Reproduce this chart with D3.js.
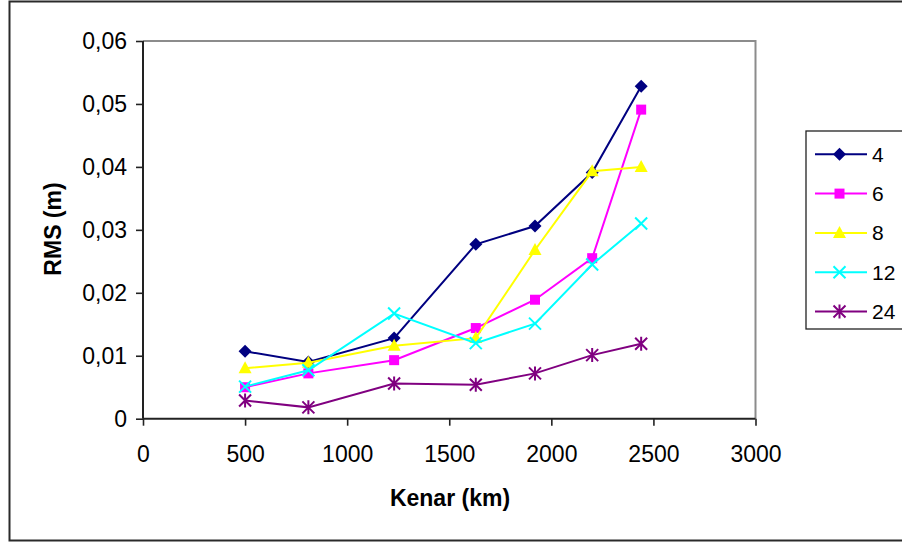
<!DOCTYPE html>
<html>
<head>
<meta charset="utf-8">
<script src="https://cdn.jsdelivr.net/npm/d3@7"></script>
<style>
  html, body { margin: 0; padding: 0; background: #fff; }
  svg { display: block; }
  text { font-family: "Liberation Sans", Arial, sans-serif; }
</style>
</head>
<body>
<svg id="chart" width="902" height="544"></svg>
<script>
// Distance along the baseline (km)
const kenar = [500, 810, 1230, 1630, 1920, 2200, 2440];

// RMS error (m) for each session length
const rms4  = [0.0107, 0.0090, 0.0128, 0.0277, 0.0306, 0.0391, 0.0528];
const rms6  = [0.0050, 0.0072, 0.0093, 0.0144, 0.0189, 0.0255, 0.0491];
const rms8  = [0.0080, 0.0089, 0.0116, 0.0128, 0.0268, 0.0393, 0.0400];
const rms12 = [0.0051, 0.0077, 0.0167, 0.0120, 0.0151, 0.0245, 0.0310];
const rms24 = [0.0029, 0.0018, 0.0056, 0.0054, 0.0072, 0.0101, 0.0119];

const seriesNames = ["4", "6", "8", "12", "24"];
const seriesColors = ["#000080", "#FF00FF", "#FFFF00", "#00FFFF", "#800080"];
const seriesMarkers = ["diamond", "square", "triangle", "cross", "star"];

const xTicks = [0, 500, 1000, 1500, 2000, 2500, 3000];
const yTicks = [0, 0.01, 0.02, 0.03, 0.04, 0.05, 0.06];

const series = [rms4, rms6, rms8, rms12, rms24].map((vals, i) => ({
  name: seriesNames[i],
  color: seriesColors[i],
  marker: seriesMarkers[i],
  points: kenar.map((k, j) => ({ x: k, y: vals[j] }))
}));

const svg = d3.select("#chart");

// Outer chart frame
svg.append("rect")
  .attr("x", 9.5).attr("y", 1.5)
  .attr("width", 902).attr("height", 539)
  .attr("fill", "#fff").attr("stroke", "#2a2a2a").attr("stroke-width", 2);

const plot = { left: 143, top: 41, right: 755.5, bottom: 418.7 };

const x = d3.scaleLinear().domain([0, 3000]).range([plot.left, plot.right]);
const y = d3.scaleLinear().domain([0, 0.06]).range([plot.bottom, plot.top]);

// Plot area border: grey on top and right
svg.append("path")
  .attr("d", `M${plot.left},${plot.top}H${plot.right}V${plot.bottom}`)
  .attr("fill", "none").attr("stroke", "#8c8c8c").attr("stroke-width", 2);

const fmtY = d => d === 0 ? "0" : d3.format(".2f")(d).replace(".", ",");

// Y axis
const yAxis = svg.append("g")
  .attr("transform", `translate(${plot.left},0)`)
  .call(d3.axisLeft(y).tickValues(yTicks).tickSize(7).tickPadding(9).tickFormat(fmtY));

// X axis
const xAxis = svg.append("g")
  .attr("transform", `translate(0,${plot.bottom})`)
  .call(d3.axisBottom(x).tickValues(xTicks).tickSize(7).tickPadding(20).tickFormat(d3.format("d")));

[yAxis, xAxis].forEach(g => {
  g.select(".domain").attr("stroke", "#222").attr("stroke-width", 2);
  g.selectAll(".tick line").attr("stroke", "#222").attr("stroke-width", 1.6);
  g.selectAll(".tick text")
    .attr("fill", "#000")
    .style("font-family", "'Liberation Sans', Arial, sans-serif")
    .style("font-size", "23px");
});
xAxis.select(".domain").attr("d", `M${plot.left},0H${plot.right}`);
yAxis.select(".domain").attr("d", `M0,${plot.bottom}V${plot.top}`);

// Axis titles
svg.append("text")
  .attr("x", 450).attr("y", 506)
  .attr("text-anchor", "middle")
  .style("font-size", "23px").style("font-weight", "bold")
  .text("Kenar (km)");

svg.append("text")
  .attr("transform", "translate(61,229) rotate(-90)")
  .attr("text-anchor", "middle")
  .style("font-size", "23px").style("font-weight", "bold")
  .text("RMS (m)");

// Marker shapes
function drawMarker(g, type, color) {
  if (type === "diamond") {
    g.append("path").attr("d", "M0,-6.5L6.5,0L0,6.5L-6.5,0Z").attr("fill", color);
  } else if (type === "square") {
    g.append("rect").attr("x", -5).attr("y", -5).attr("width", 10).attr("height", 10).attr("fill", color);
  } else if (type === "triangle") {
    g.append("path").attr("d", "M0,-7L6.5,5L-6.5,5Z").attr("fill", color);
  } else if (type === "cross") {
    g.append("path").attr("d", "M-6,-6L6,6M-6,6L6,-6")
      .attr("stroke", color).attr("stroke-width", 2).attr("fill", "none");
  } else if (type === "star") {
    g.append("path").attr("d", "M-6,-6L6,6M-6,6L6,-6M0,-7V7")
      .attr("stroke", color).attr("stroke-width", 2).attr("fill", "none");
  }
}

const line = d3.line().x(d => x(d.x)).y(d => y(d.y));

const layers = svg.append("g");
series.forEach(s => {
  const g = layers.append("g");
  g.append("path")
    .datum(s.points)
    .attr("d", line)
    .attr("fill", "none")
    .attr("stroke", s.color)
    .attr("stroke-width", 2);
  g.selectAll("g.pt")
    .data(s.points)
    .join("g")
    .attr("class", "pt")
    .attr("transform", d => `translate(${x(d.x)},${y(d.y)})`)
    .each(function () { drawMarker(d3.select(this), s.marker, s.color); });
});

// Legend
const legend = svg.append("g");
legend.append("rect")
  .attr("x", 806).attr("y", 131)
  .attr("width", 110).attr("height", 198)
  .attr("fill", "#fff").attr("stroke", "#222").attr("stroke-width", 1.3);

series.forEach((s, i) => {
  const ly = 154.3 + i * 39.3;
  const g = legend.append("g");
  g.append("line")
    .attr("x1", 815).attr("x2", 867)
    .attr("y1", ly).attr("y2", ly)
    .attr("stroke", s.color).attr("stroke-width", 2);
  const m = g.append("g").attr("transform", `translate(839.5,${ly})`);
  drawMarker(m, s.marker, s.color);
  g.append("text")
    .attr("x", 872).attr("y", ly)
    .attr("dy", "0.35em")
    .style("font-size", "21px")
    .text(s.name);
});
</script>
</body>
</html>
